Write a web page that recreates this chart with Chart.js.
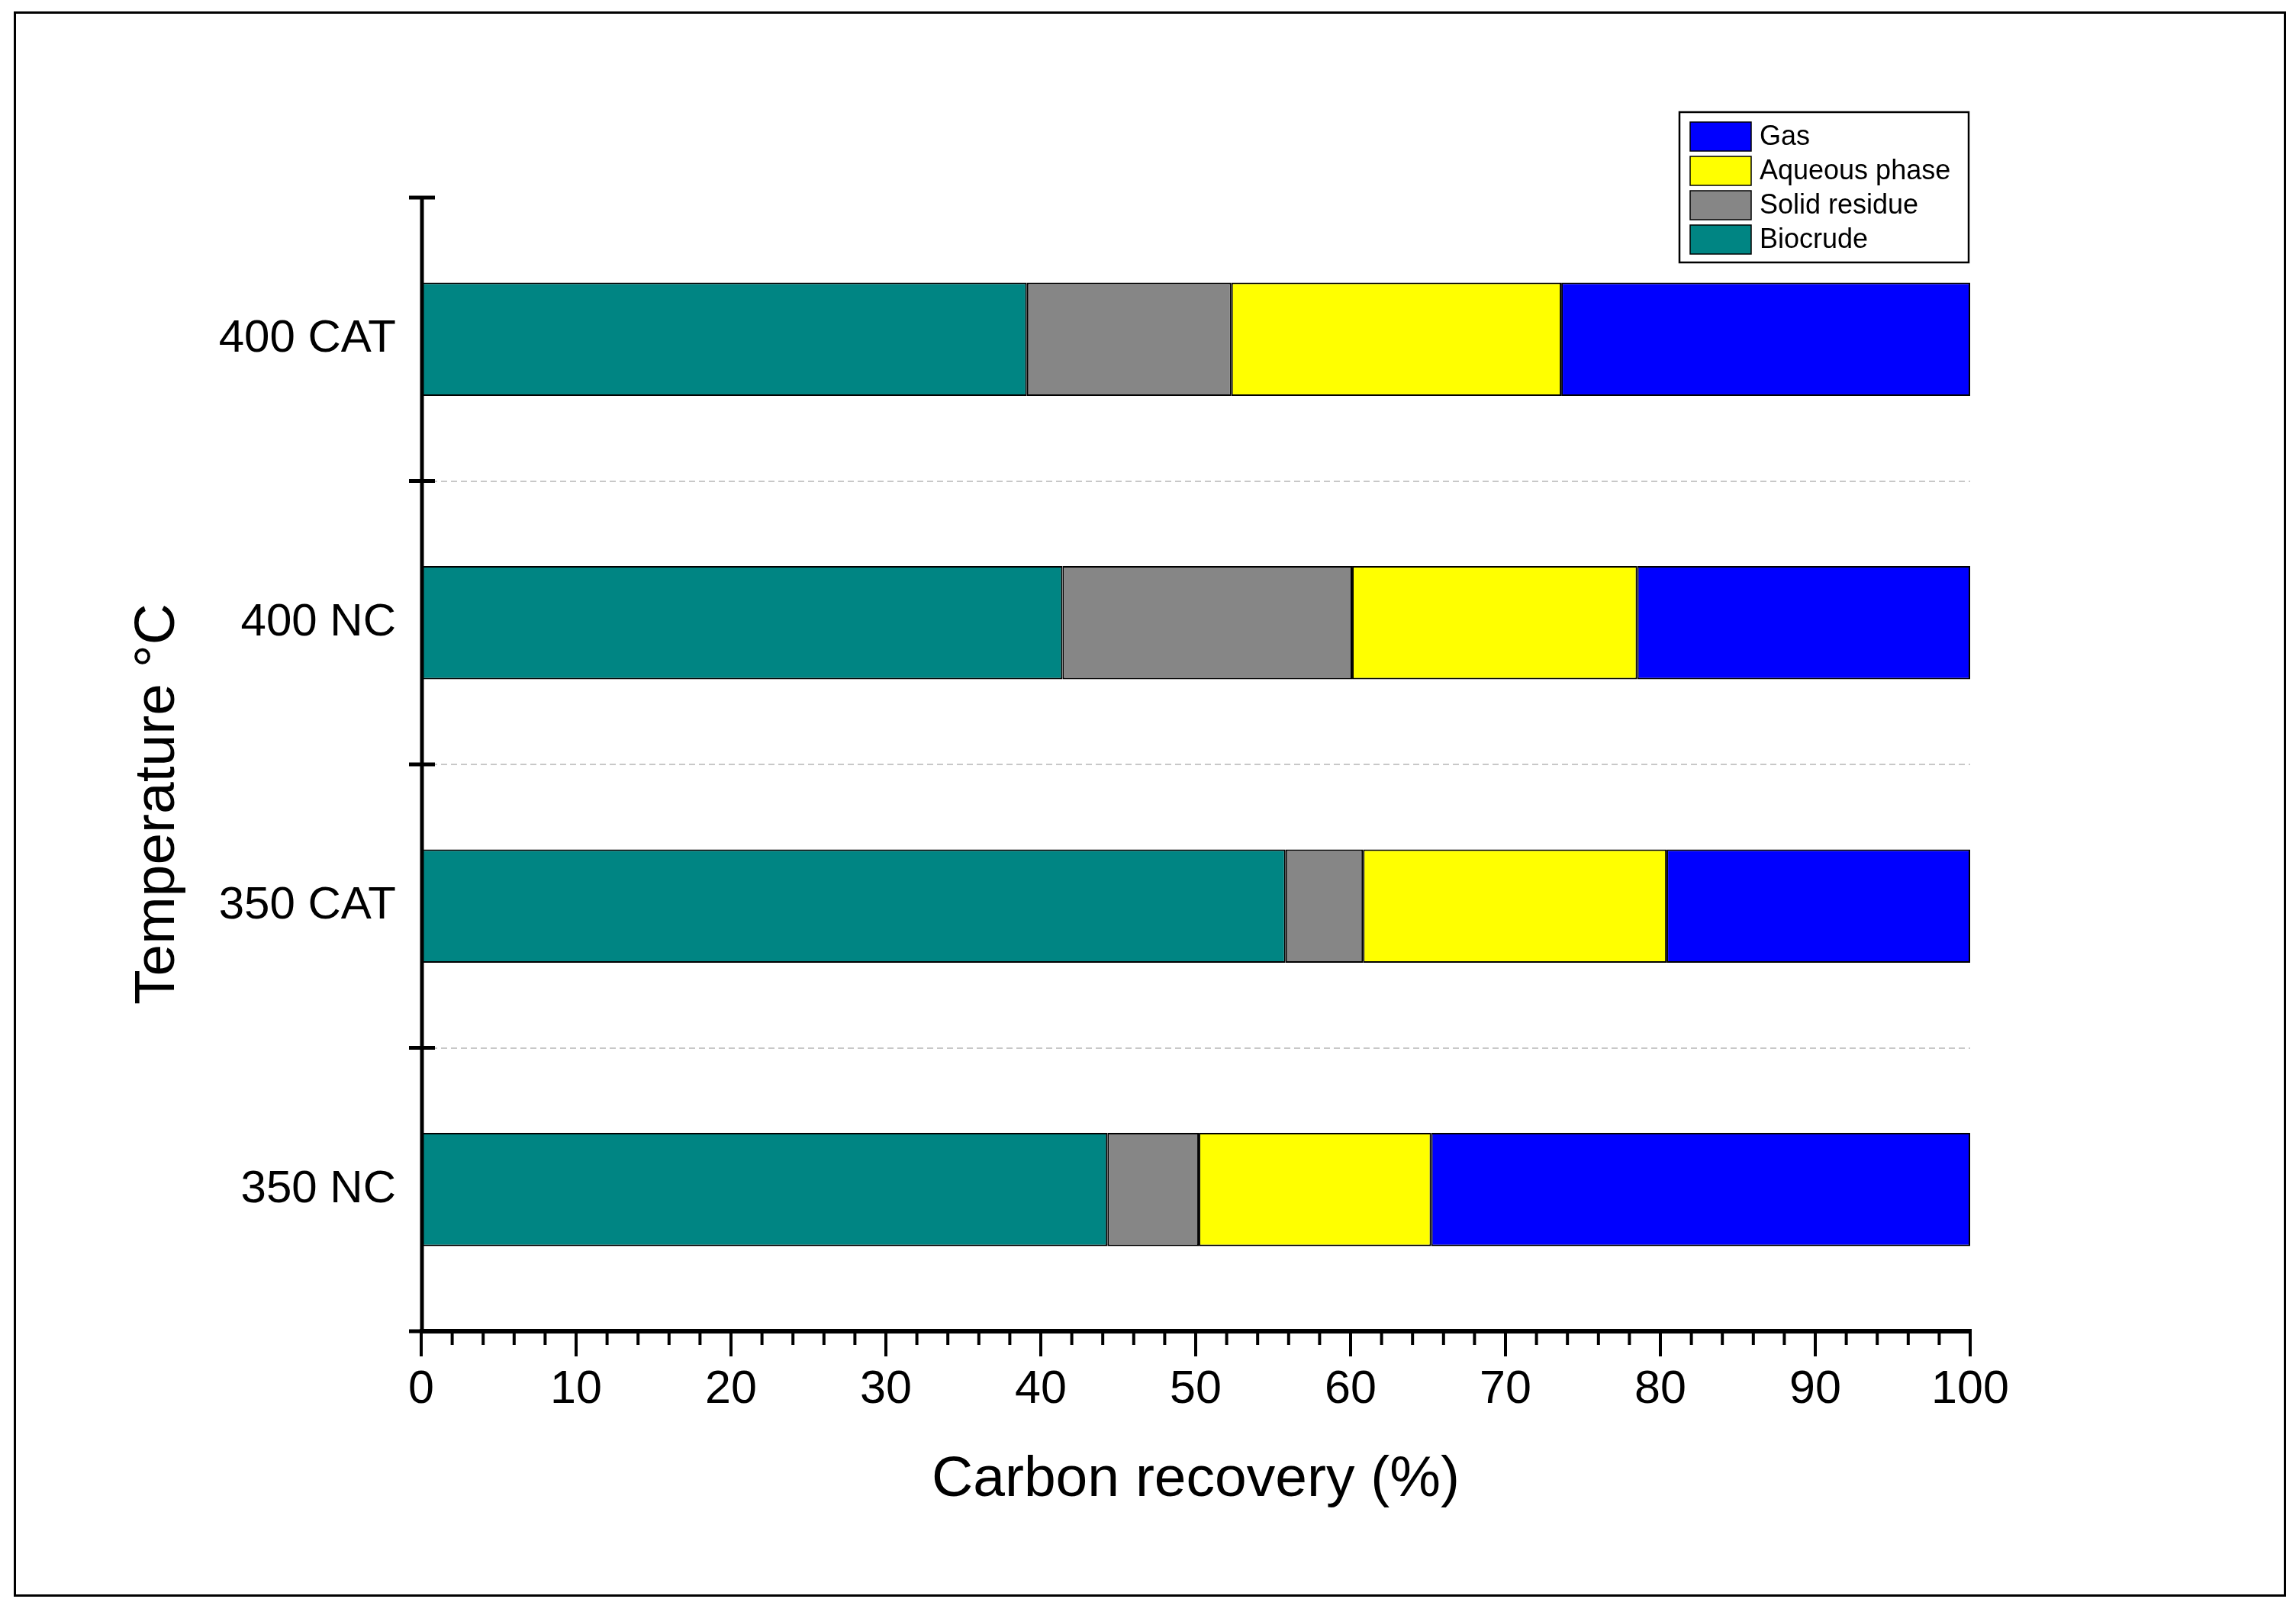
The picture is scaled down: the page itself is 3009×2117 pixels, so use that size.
<!DOCTYPE html>
<html>
<head>
<meta charset="utf-8">
<script src="https://cdn.jsdelivr.net/npm/chart.js@4.4.1/dist/chart.umd.min.js"></script>
<style>
  html, body { margin: 0; padding: 0; background: #ffffff; }
  #wrap { width: 3009px; height: 2117px; }
</style>
</head>
<body>
<div id="wrap"><canvas id="c" width="3009" height="2117"></canvas></div>
<script>
// ---- data ----
const categories = ['400 CAT', '400 NC', '350 CAT', '350 NC'];
const biocrude   = [39.1, 41.4, 55.8, 44.3];
const solidResidue = [13.2, 18.7, 5.0, 5.9];
const aqueousPhase = [21.3, 18.4, 19.6, 15.0];
const gas        = [26.4, 21.5, 19.6, 34.8];
const xTickValues = [0, 10, 20, 30, 40, 50, 60, 70, 80, 90, 100];
const xMinorStep = 2;

const FONT = "'Liberation Sans', Arial, sans-serif";

const decorPlugin = {
  id: 'decor',
  afterDraw(chart) {
    const ctx = chart.ctx;
    const xs = chart.scales.x, ys = chart.scales.y;
    const ca = chart.chartArea;
    ctx.save();
    // outer frame
    ctx.strokeStyle = '#000';
    ctx.lineWidth = 3;
    ctx.strokeRect(19.5, 16.5, 2975, 2075);

    // axis lines
    ctx.lineCap = 'butt';
    ctx.lineWidth = 5;
    ctx.beginPath();
    ctx.moveTo(ca.left + 1, ca.top - 2);
    ctx.lineTo(ca.left + 1, ca.bottom);
    ctx.stroke();
    ctx.lineWidth = 6;
    ctx.beginPath();
    ctx.moveTo(ca.left - 2, ca.bottom);
    ctx.lineTo(ca.right + 2, ca.bottom);
    ctx.stroke();

    // y ticks (crossing)
    ctx.lineWidth = 5;
    for (let i = 0; i <= categories.length; i++) {
      const py = ys.getPixelForValue(i - 0.5);
      ctx.beginPath();
      ctx.moveTo(ca.left - 16, py);
      ctx.lineTo(ca.left + 18, py);
      ctx.stroke();
    }
    // x ticks major + minor
    ctx.lineWidth = 4;
    for (let v = xs.min; v <= xs.max + 1e-9; v += xMinorStep) {
      const px = xs.getPixelForValue(v);
      const major = xTickValues.includes(Math.round(v));
      ctx.beginPath();
      ctx.moveTo(px, ca.bottom);
      ctx.lineTo(px, ca.bottom + (major ? 33 : 18));
      ctx.stroke();
    }

    // y title
    ctx.save();
    ctx.translate(207, 1054);
    ctx.rotate(-Math.PI / 2);
    ctx.fillStyle = '#000';
    ctx.font = '75px ' + FONT;
    ctx.textAlign = 'center';
    ctx.textBaseline = 'middle';
    ctx.fillText('Temperature \u00B0C', 0, 0);
    ctx.restore();

    // legend
    const lx = 2201, ly = 147, lw = 379, lh = 197;
    ctx.fillStyle = '#fff';
    ctx.fillRect(lx, ly, lw, lh);
    ctx.lineWidth = 2.5;
    ctx.strokeStyle = '#000';
    ctx.strokeRect(lx, ly, lw, lh);
    const ds = chart.data.datasets.slice().reverse();
    ctx.font = '36px ' + FONT;
    ctx.textAlign = 'left';
    ctx.textBaseline = 'middle';
    ds.forEach((d, i) => {
      const sy = ly + 13 + i * 45;
      ctx.fillStyle = d.backgroundColor;
      ctx.fillRect(2215, sy, 80, 38);
      ctx.lineWidth = 1.5;
      ctx.strokeStyle = '#000';
      ctx.strokeRect(2215, sy, 80, 38);
      ctx.fillStyle = '#000';
      ctx.fillText(d.label, 2306, sy + 20);
    });
    ctx.restore();
  }
};

const common = { borderColor: '#000', borderWidth: 2, borderSkipped: false, barPercentage: 0.4, categoryPercentage: 1.0 };

new Chart(document.getElementById('c'), {
  type: 'bar',
  data: {
    labels: categories,
    datasets: [
      Object.assign({ label: 'Biocrude', data: biocrude, backgroundColor: '#008583' }, common),
      Object.assign({ label: 'Solid residue', data: solidResidue, backgroundColor: '#868686' }, common),
      Object.assign({ label: 'Aqueous phase', data: aqueousPhase, backgroundColor: '#FFFF00' }, common),
      Object.assign({ label: 'Gas', data: gas, backgroundColor: '#0000FF' }, common)
    ]
  },
  options: {
    indexAxis: 'y',
    responsive: false,
    devicePixelRatio: 1,
    animation: false,
    layout: { padding: { left: 0, top: 259, right: 427, bottom: 0 } },
    plugins: { legend: { display: false }, tooltip: { enabled: false } },
    scales: {
      x: {
        type: 'linear', stacked: true, min: 0, max: 100, position: 'bottom',
        afterBuildTicks: (s) => { s.ticks = xTickValues.map(v => ({ value: v })); },
        ticks: { font: { family: FONT, size: 61 }, color: '#000', padding: 41, maxRotation: 0, autoSkip: false },
        grid: { drawOnChartArea: false, drawTicks: false },
        border: { display: false },
        title: { display: true, text: 'Carbon recovery (%)', color: '#000', font: { family: FONT, size: 75 }, padding: { top: 0, bottom: 132 } },
        afterFit: (s) => { s.height = 372; }
      },
      y: {
        type: 'category', stacked: true, offset: true,
        ticks: { font: { family: FONT, size: 60 }, color: '#000', padding: 33 },
        grid: {
          drawTicks: false,
          lineWidth: 2,
          color: (c) => (c.index >= 1 && c.index <= categories.length - 1) ? '#c8c8c8' : 'rgba(0,0,0,0)'
        },
        border: { display: false, dash: [8, 5] },
        afterFit: (s) => { s.width = 552; }
      }
    }
  },
  plugins: [decorPlugin]
});
</script>
</body>
</html>
